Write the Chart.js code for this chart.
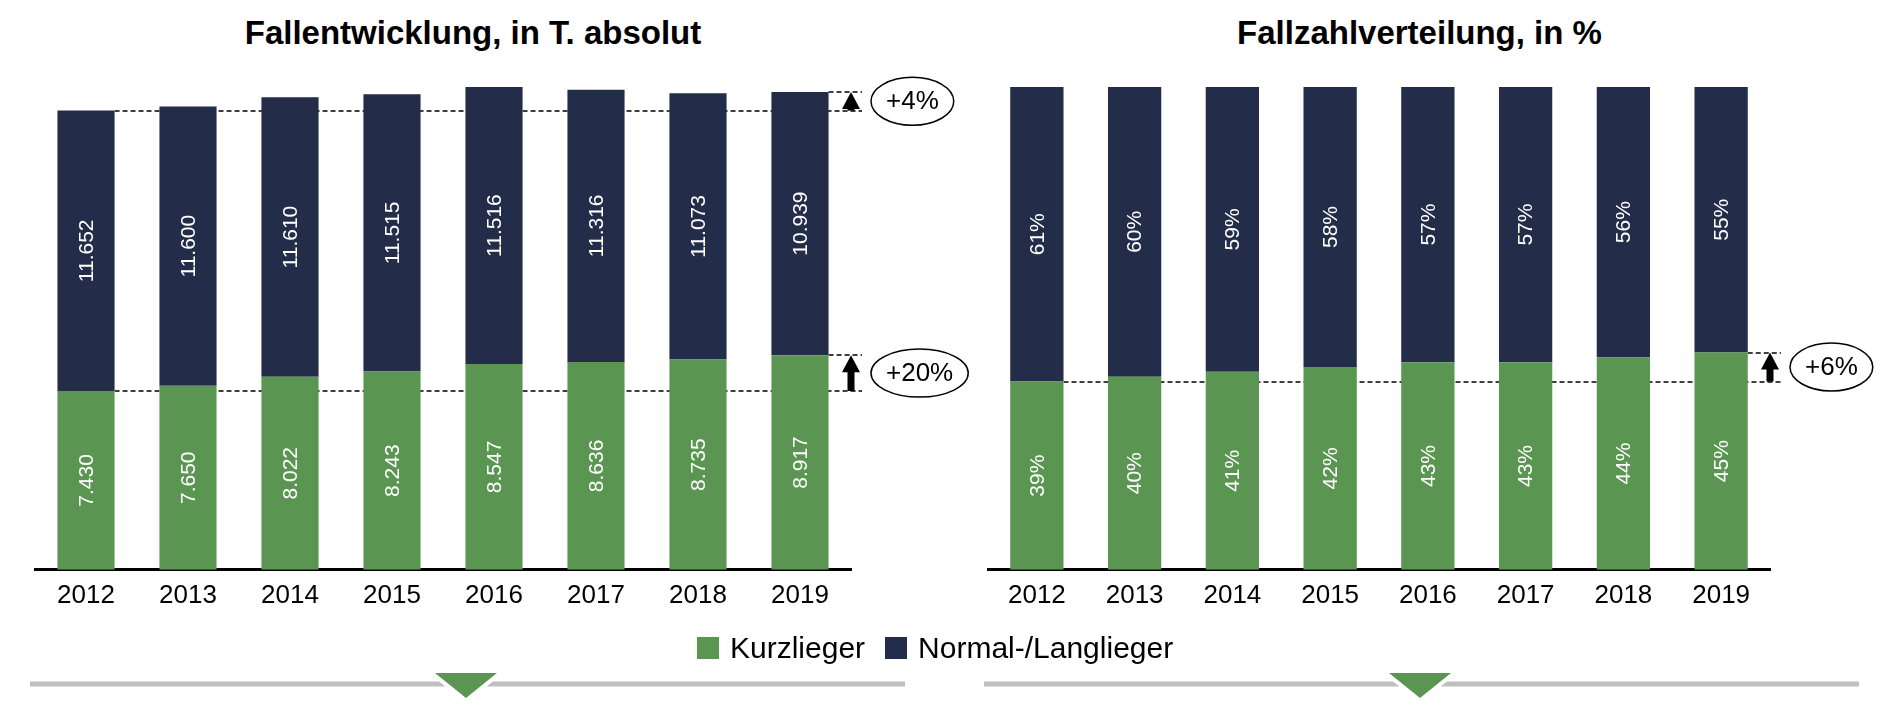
<!DOCTYPE html>
<html lang="de">
<head>
<meta charset="utf-8">
<title>Fallentwicklung / Fallzahlverteilung</title>
<script src="https://cdn.jsdelivr.net/npm/chart.js@4.4.1/dist/chart.umd.min.js"></script>
<style>
  html, body { margin: 0; padding: 0; background: #fff; }
  body { width: 1893px; height: 710px; position: relative; overflow: hidden; font-family: 'Liberation Sans', Arial, sans-serif; }
  .box { position: absolute; top: 0; height: 632px; }
  #leftBox { left: 0; width: 1000px; }
  #rightBox { left: 946px; width: 947px; }
  .titel { position: absolute; top: 13px; height: 40px; line-height: 40px; text-align: center; font-weight: bold; font-size: 33px; color: #000; }
  #titelLinks { left: 0; width: 946px; }
  #titelRechts { left: 946px; width: 947px; }
  #legend { position: absolute; left: 697px; top: 631px; height: 34px; display: flex; align-items: center; font-size: 30px; color: #000; }
  #legend .sw { width: 22px; height: 22px; margin-right: 11px; }
  #legend .item { display: flex; align-items: center; margin-right: 20px; }
  #deko { position: absolute; left: 0; top: 0; }
</style>
</head>
<body>
<div class="titel" id="titelLinks">Fallentwicklung, in T. absolut</div>
<div class="titel" id="titelRechts">Fallzahlverteilung, in %</div>
<div class="box" id="leftBox"><canvas id="absChart"></canvas></div>
<div class="box" id="rightBox"><canvas id="prozChart"></canvas></div>
<div id="legend">
  <div class="item"><div class="sw" style="background:#5A9651"></div>Kurzlieger</div>
  <div class="item"><div class="sw" style="background:#232C48"></div>Normal-/Langlieger</div>
</div>
<svg id="deko" width="1893" height="710">
  <line x1="30" y1="684" x2="905" y2="684" stroke="#BFBFBF" stroke-width="5"/>
  <polygon points="435,673 497,673 466,698" fill="#5A9651" stroke="#fff" stroke-width="8" paint-order="stroke"/>
  <line x1="984" y1="684" x2="1859" y2="684" stroke="#BFBFBF" stroke-width="5"/>
  <polygon points="1389,673 1451,673 1420,698" fill="#5A9651" stroke="#fff" stroke-width="8" paint-order="stroke"/>
</svg>
<script>
// Werte aus der Grafik
var jahre = ['2012', '2013', '2014', '2015', '2016', '2017', '2018', '2019'];
var kurzAbs = [7430, 7650, 8022, 8243, 8547, 8636, 8735, 8917];
var normalAbs = [11652, 11600, 11610, 11515, 11516, 11316, 11073, 10939];
var kurzProz = [39, 40, 41, 42, 43, 43, 44, 45];
var normalProz = [61, 60, 59, 58, 57, 57, 56, 55];

var GRUEN = '#5A9651';
var NAVY = '#232C48';
var FONT = "'Liberation Sans', Arial, sans-serif";

function tausender(n) {
    return String(n).replace(/\B(?=(\d{3})+(?!\d))/g, '.');
}

// weisse, gedrehte Beschriftung in der Mitte jedes Segments
var segmentLabels = {
    id: 'segmentLabels',
    afterDatasetsDraw: function(chart, args, opts) {
        var ctx = chart.ctx;
        ctx.save();
        ctx.fillStyle = '#fff';
        ctx.font = '21px ' + FONT;
        ctx.textAlign = 'center';
        ctx.textBaseline = 'middle';
        chart.data.datasets.forEach(function(ds, di) {
            chart.getDatasetMeta(di).data.forEach(function(bar, i) {
                var y = (bar.y + bar.base) / 2;
                ctx.save();
                ctx.translate(bar.x, y);
                ctx.rotate(-Math.PI / 2);
                ctx.fillText(opts.format(ds.data[i]), 0, 1);
                ctx.restore();
            });
        });
        ctx.restore();
    }
};

// gestrichelte Linien, Pfeil und Ellipse mit Veraenderung
var trendMarks = {
    id: 'trendMarks',
    beforeDatasetsDraw: function(chart, args, opts) {
        var ctx = chart.ctx;
        var area = chart.chartArea;
        ctx.save();
        ctx.strokeStyle = '#000';
        ctx.lineWidth = 1.5;
        ctx.setLineDash([5, 3]);
        opts.items.forEach(function(it) {
            var bars = chart.getDatasetMeta(it.dataset).data;
            var first = bars[0], last = bars[bars.length - 1];
            var y1 = Math.round(first.y), y2 = Math.round(last.y);
            ctx.beginPath();
            ctx.moveTo(first.x + first.width / 2, y1);
            ctx.lineTo(area.right + 11, y1);
            ctx.moveTo(last.x + last.width / 2, y2);
            ctx.lineTo(area.right + 11, y2);
            ctx.stroke();
        });
        ctx.restore();
    },
    afterDatasetsDraw: function(chart, args, opts) {
        var ctx = chart.ctx;
        var area = chart.chartArea;
        ctx.save();
        opts.items.forEach(function(it) {
            var bars = chart.getDatasetMeta(it.dataset).data;
            var yBot = bars[0].y, yTop = bars[bars.length - 1].y;
            var x = area.right;
            var head = Math.min(17, yBot - yTop);
            ctx.fillStyle = '#000';
            ctx.beginPath();
            ctx.moveTo(x, yTop);
            ctx.lineTo(x + 9, yTop + head);
            ctx.lineTo(x - 9, yTop + head);
            ctx.closePath();
            ctx.fill();
            if (yBot - yTop > head) {
                ctx.fillRect(x - 3.5, yTop + head - 0.5, 7, yBot - yTop - head + 0.5);
            }
            ctx.font = '26px ' + FONT;
            var w = ctx.measureText(it.text).width;
            var rx = w / 2 + 15, ry = 24;
            var cx = area.right + 20 + rx, cy = (yTop + yBot) / 2;
            ctx.beginPath();
            ctx.ellipse(cx, cy, rx, ry, 0, 0, Math.PI * 2);
            ctx.fillStyle = '#fff';
            ctx.fill();
            ctx.lineWidth = 1.5;
            ctx.strokeStyle = '#000';
            ctx.stroke();
            ctx.fillStyle = '#000';
            ctx.textAlign = 'center';
            ctx.textBaseline = 'middle';
            ctx.fillText(it.text, cx, cy + 1);
        });
        ctx.restore();
    }
};

function makeChart(id, kurz, normal, yMax, barPct, pad, format, items) {
    return new Chart(document.getElementById(id), {
        type: 'bar',
        data: {
            labels: jahre,
            datasets: [{
                label: 'Kurzlieger',
                data: kurz,
                backgroundColor: GRUEN,
                borderWidth: 0
            }, {
                label: 'Normal-/Langlieger',
                data: normal,
                backgroundColor: NAVY,
                borderWidth: 0
            }]
        },
        options: {
            responsive: true,
            maintainAspectRatio: false,
            animation: false,
            devicePixelRatio: 1,
            categoryPercentage: 1,
            barPercentage: barPct,
            layout: { padding: { left: pad.left, right: pad.right, top: 87, bottom: 11 } },
            plugins: {
                legend: { display: false },
                tooltip: { enabled: false },
                title: { display: false },
                segmentLabels: { format: format },
                trendMarks: { items: items }
            },
            scales: {
                x: {
                    stacked: true,
                    grid: { display: false, drawTicks: false },
                    border: { display: true, color: '#000', width: 3 },
                    ticks: { color: '#000', padding: 10, font: { family: FONT, size: 26 } }
                },
                y: {
                    stacked: true,
                    display: false,
                    min: 0,
                    max: yMax
                }
            }
        },
        plugins: [segmentLabels, trendMarks]
    });
}

document.addEventListener('DOMContentLoaded', function() {
    var summen = kurzAbs.map(function(v, i) { return v + normalAbs[i]; });
    makeChart('absChart', kurzAbs, normalAbs,
        Math.max.apply(null, summen), 0.56, { left: 35, right: 149 }, tausender,
        [{ dataset: 1, text: '+4%' }, { dataset: 0, text: '+20%' }]);
    makeChart('prozChart', kurzProz, normalProz,
        100, 0.545, { left: 42, right: 123 }, function(v) { return v + '%'; },
        [{ dataset: 0, text: '+6%' }]);
});
</script>
</body>
</html>
